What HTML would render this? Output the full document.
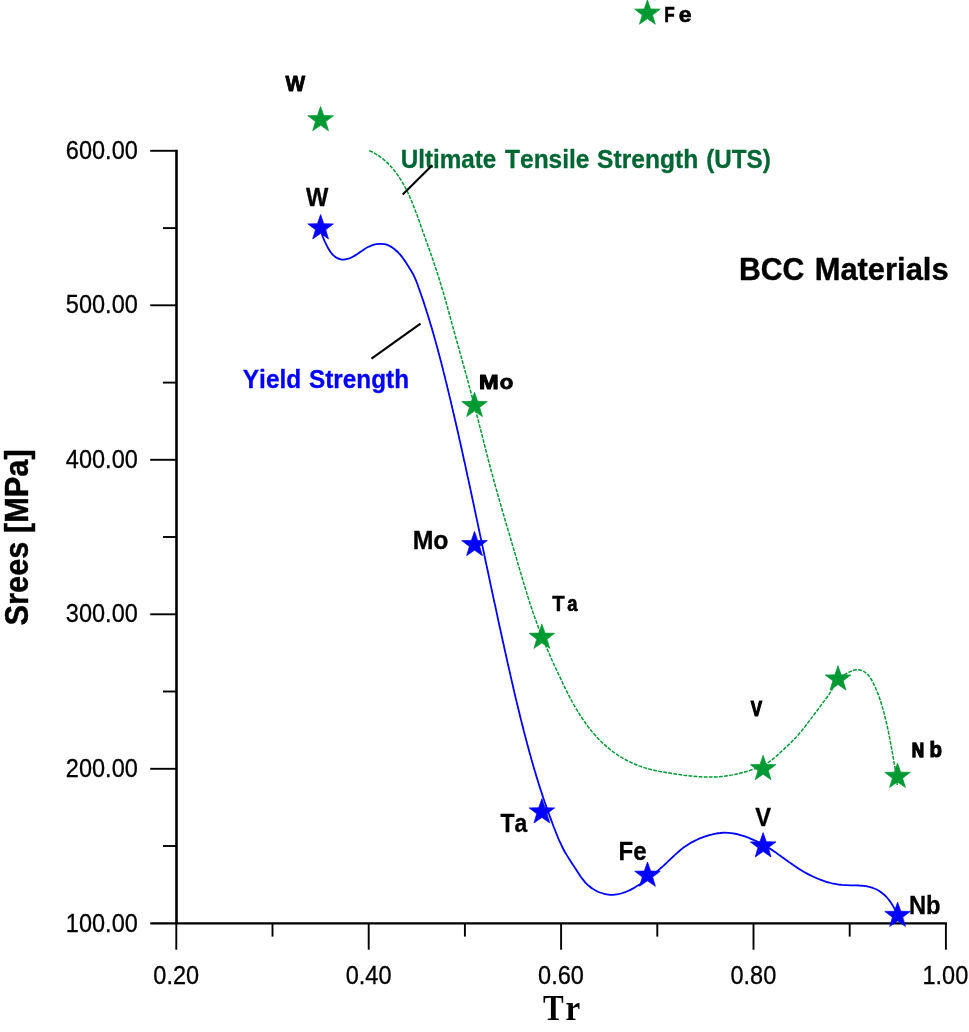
<!DOCTYPE html>
<html><head><meta charset="utf-8"><title>BCC Materials</title>
<style>html,body{margin:0;padding:0;background:#fff}body{width:969px;height:1032px;overflow:hidden}svg{display:block;will-change:transform}text{font-family:"Liberation Sans",sans-serif;fill:#000;font-kerning:none;font-variant-ligatures:none}.tk{font-size:23.4px}.b{font-weight:bold}.gl{font-weight:bold;font-size:20px;letter-spacing:1.6px}.bl{font-weight:bold;font-size:24px}</style></head><body>
<svg width="969" height="1032" viewBox="0 0 969 1032">
<rect width="969" height="1032" fill="#fff"/>
<g stroke="#000" fill="none" stroke-linecap="butt">
<line x1="176.5" y1="149.8" x2="176.5" y2="923.3" stroke-width="2.6"/>
<line x1="150.2" y1="923.3" x2="946.9" y2="923.3" stroke-width="2.2"/>
<g stroke-width="1.9">
<line x1="150.2" y1="150.8" x2="176.3" y2="150.8"/>
<line x1="163.0" y1="228.1" x2="176.3" y2="228.1"/>
<line x1="150.2" y1="305.3" x2="176.3" y2="305.3"/>
<line x1="163.0" y1="382.6" x2="176.3" y2="382.6"/>
<line x1="150.2" y1="459.8" x2="176.3" y2="459.8"/>
<line x1="163.0" y1="537.0" x2="176.3" y2="537.0"/>
<line x1="150.2" y1="614.3" x2="176.3" y2="614.3"/>
<line x1="163.0" y1="691.5" x2="176.3" y2="691.5"/>
<line x1="150.2" y1="768.8" x2="176.3" y2="768.8"/>
<line x1="163.0" y1="846.0" x2="176.3" y2="846.0"/>
<line x1="176.3" y1="923.3" x2="176.3" y2="949.7"/>
<line x1="272.5" y1="923.3" x2="272.5" y2="936.6"/>
<line x1="368.7" y1="923.3" x2="368.7" y2="949.7"/>
<line x1="464.9" y1="923.3" x2="464.9" y2="936.6"/>
<line x1="561.1" y1="923.3" x2="561.1" y2="949.7"/>
<line x1="657.3" y1="923.3" x2="657.3" y2="936.6"/>
<line x1="753.5" y1="923.3" x2="753.5" y2="949.7"/>
<line x1="849.7" y1="923.3" x2="849.7" y2="936.6"/>
<line x1="945.9" y1="923.3" x2="945.9" y2="949.7"/>
</g></g>
<text transform="translate(65.86,158.81) scale(0.941,1)" font-size="25.00" stroke="#000" stroke-width="0.30">600.00</text>
<text transform="translate(65.86,313.31) scale(0.941,1)" font-size="25.00" stroke="#000" stroke-width="0.30">500.00</text>
<text transform="translate(65.86,467.81) scale(0.941,1)" font-size="25.00" stroke="#000" stroke-width="0.30">400.00</text>
<text transform="translate(65.86,622.31) scale(0.941,1)" font-size="25.00" stroke="#000" stroke-width="0.30">300.00</text>
<text transform="translate(65.86,776.81) scale(0.941,1)" font-size="25.00" stroke="#000" stroke-width="0.30">200.00</text>
<text transform="translate(65.86,932.16) scale(0.941,1)" font-size="25.00" stroke="#000" stroke-width="0.30">100.00</text>
<text transform="translate(153.31,983.66) scale(0.941,1)" font-size="25.00" stroke="#000" stroke-width="0.30">0.20</text>
<text transform="translate(345.71,983.66) scale(0.941,1)" font-size="25.00" stroke="#000" stroke-width="0.30">0.40</text>
<text transform="translate(538.11,983.66) scale(0.941,1)" font-size="25.00" stroke="#000" stroke-width="0.30">0.60</text>
<text transform="translate(730.51,983.66) scale(0.941,1)" font-size="25.00" stroke="#000" stroke-width="0.30">0.80</text>
<text transform="translate(922.47,983.66) scale(0.941,1)" font-size="25.00" stroke="#000" stroke-width="0.30">1.00</text>
<text class="b" font-size="30.8" stroke="#000" stroke-width="0.4" transform="translate(27.5,625.4) rotate(-90) scale(0.999,1.085)">Srees [MPa]</text>
<text transform="translate(542.9,1019.9) scale(0.9,1.05)" style="font-family:'Liberation Serif',serif;font-weight:bold;font-size:34.5px">T</text>
<text transform="translate(565.5,1019.9) scale(0.96,1.03)" style="font-family:'Liberation Serif',serif;font-weight:bold;font-size:34.5px">r</text>
<path d="M369.3,150.7 C369.9,151.0 371.9,151.8 373.1,152.4 C374.3,153.1 375.5,153.7 376.7,154.5 C377.9,155.2 379.0,156.0 380.2,156.8 C381.3,157.6 382.4,158.5 383.5,159.4 C384.6,160.3 385.6,161.2 386.6,162.1 C387.7,163.1 388.7,164.1 389.6,165.1 C390.6,166.2 391.5,167.2 392.5,168.3 C393.4,169.3 394.3,170.4 395.1,171.5 C396.0,172.7 396.8,173.8 397.6,174.9 C398.4,176.1 399.2,177.2 399.9,178.4 C400.7,179.5 401.4,180.7 402.1,181.9 C402.8,183.1 403.5,184.3 404.2,185.5 C404.9,186.7 405.5,188.0 406.1,189.2 C406.8,190.4 407.4,191.7 408.0,192.9 C408.6,194.2 409.1,195.4 409.7,196.7 C410.3,198.0 410.8,199.3 411.3,200.5 C411.9,201.8 412.4,203.1 412.9,204.4 C413.4,205.7 413.9,207.0 414.4,208.3 C414.9,209.6 415.4,210.9 415.9,212.2 C416.4,213.5 416.9,214.8 417.4,216.1 C417.8,217.4 418.3,218.8 418.8,220.1 C419.3,221.4 419.7,222.7 420.2,224.0 C420.7,225.3 421.1,226.6 421.6,227.9 C422.1,229.3 422.6,230.6 423.0,231.9 C423.5,233.2 424.0,234.5 424.4,235.8 C424.9,237.1 425.4,238.4 425.8,239.8 C426.3,241.1 426.8,242.4 427.3,243.7 C427.7,245.0 428.2,246.3 428.6,247.6 C429.1,248.9 429.6,250.2 430.0,251.6 C430.5,252.9 430.9,254.2 431.4,255.5 C431.9,256.8 432.3,258.1 432.8,259.4 C433.2,260.8 433.7,262.1 434.1,263.4 C434.6,264.7 435.0,266.0 435.4,267.3 C435.9,268.7 436.3,270.0 436.7,271.3 C437.2,272.6 437.6,273.9 438.0,275.3 C438.4,276.6 438.9,277.9 439.3,279.2 C439.7,280.6 440.1,281.9 440.5,283.2 C440.9,284.6 441.3,285.9 441.7,287.2 C442.1,288.6 442.5,289.9 442.9,291.2 C443.3,292.6 443.7,293.9 444.1,295.2 C444.5,296.6 444.8,297.9 445.2,299.2 C445.6,300.6 446.0,301.9 446.4,303.3 C446.7,304.6 447.1,305.9 447.5,307.3 C447.8,308.6 448.2,310.0 448.6,311.3 C449.0,312.7 449.3,314.0 449.7,315.3 C450.1,316.7 450.4,318.0 450.8,319.4 C451.2,320.7 451.5,322.1 451.9,323.4 C452.3,324.7 452.6,326.1 453.0,327.4 C453.4,328.8 453.7,330.1 454.1,331.4 C454.5,332.8 454.9,334.1 455.2,335.5 C455.6,336.8 456.0,338.1 456.3,339.5 C456.7,340.8 457.1,342.2 457.5,343.5 C457.8,344.9 458.2,346.2 458.6,347.5 C459.0,348.9 459.3,350.2 459.7,351.6 C460.1,352.9 460.4,354.2 460.8,355.6 C461.2,356.9 461.6,358.3 461.9,359.6 C462.3,360.9 462.7,362.3 463.0,363.6 C463.4,365.0 463.8,366.3 464.2,367.6 C464.5,369.0 464.9,370.3 465.3,371.7 C465.6,373.0 466.0,374.3 466.4,375.7 C466.7,377.0 467.1,378.4 467.5,379.7 C467.8,381.1 468.2,382.4 468.6,383.7 C468.9,385.1 469.3,386.4 469.6,387.8 C470.0,389.1 470.4,390.5 470.7,391.8 C471.1,393.1 471.5,394.5 471.8,395.8 C472.2,397.2 472.5,398.5 472.9,399.9 C473.2,401.2 473.6,402.6 473.9,403.9 C474.3,405.3 474.7,406.6 475.0,407.9 C475.4,409.3 475.7,410.6 476.1,412.0 C476.4,413.3 476.8,414.7 477.1,416.0 C477.5,417.4 477.8,418.7 478.1,420.1 C478.5,421.4 478.8,422.8 479.2,424.1 C479.5,425.5 479.9,426.8 480.2,428.2 C480.6,429.5 480.9,430.9 481.3,432.2 C481.6,433.6 481.9,434.9 482.3,436.3 C482.6,437.6 483.0,438.9 483.3,440.3 C483.7,441.6 484.0,443.0 484.3,444.3 C484.7,445.7 485.0,447.0 485.4,448.4 C485.7,449.7 486.1,451.1 486.4,452.4 C486.8,453.8 487.1,455.1 487.5,456.5 C487.8,457.8 488.2,459.2 488.5,460.5 C488.9,461.9 489.2,463.2 489.6,464.5 C489.9,465.9 490.3,467.2 490.6,468.6 C491.0,469.9 491.4,471.3 491.7,472.6 C492.1,474.0 492.4,475.3 492.8,476.6 C493.2,478.0 493.5,479.3 493.9,480.7 C494.3,482.0 494.6,483.4 495.0,484.7 C495.4,486.0 495.7,487.4 496.1,488.7 C496.5,490.1 496.9,491.4 497.2,492.7 C497.6,494.1 498.0,495.4 498.4,496.8 C498.8,498.1 499.1,499.4 499.5,500.8 C499.9,502.1 500.3,503.4 500.7,504.8 C501.1,506.1 501.4,507.5 501.8,508.8 C502.2,510.1 502.6,511.5 503.0,512.8 C503.4,514.1 503.8,515.5 504.2,516.8 C504.6,518.1 504.9,519.5 505.3,520.8 C505.7,522.1 506.1,523.5 506.5,524.8 C506.9,526.1 507.3,527.5 507.7,528.8 C508.1,530.2 508.5,531.5 508.9,532.8 C509.3,534.2 509.7,535.5 510.1,536.8 C510.5,538.2 510.9,539.5 511.2,540.8 C511.6,542.2 512.0,543.5 512.4,544.8 C512.8,546.2 513.2,547.5 513.6,548.8 C514.0,550.2 514.4,551.5 514.8,552.8 C515.2,554.2 515.6,555.5 516.0,556.8 C516.4,558.2 516.8,559.5 517.1,560.9 C517.5,562.2 517.9,563.5 518.3,564.9 C518.7,566.2 519.1,567.5 519.5,568.9 C519.9,570.2 520.3,571.5 520.7,572.9 C521.1,574.2 521.5,575.6 521.9,576.9 C522.2,578.2 522.6,579.6 523.0,580.9 C523.4,582.2 523.8,583.6 524.2,584.9 C524.6,586.2 525.0,587.6 525.5,588.9 C525.9,590.2 526.3,591.5 526.7,592.9 C527.1,594.2 527.5,595.5 527.9,596.9 C528.3,598.2 528.8,599.5 529.2,600.8 C529.6,602.2 530.0,603.5 530.5,604.8 C530.9,606.1 531.3,607.4 531.8,608.8 C532.2,610.1 532.7,611.4 533.1,612.7 C533.6,614.0 534.0,615.3 534.5,616.7 C535.0,618.0 535.4,619.3 535.9,620.6 C536.4,621.9 536.8,623.2 537.3,624.5 C537.8,625.8 538.3,627.1 538.8,628.4 C539.3,629.7 539.8,631.0 540.3,632.3 C540.8,633.6 541.3,634.9 541.8,636.2 C542.3,637.5 542.9,638.8 543.4,640.0 C543.9,641.3 544.5,642.6 545.0,643.9 C545.5,645.2 546.1,646.5 546.6,647.8 C547.2,649.0 547.7,650.3 548.3,651.6 C548.8,652.9 549.4,654.1 549.9,655.4 C550.5,656.7 551.1,658.0 551.6,659.2 C552.2,660.5 552.8,661.8 553.3,663.0 C553.9,664.3 554.5,665.6 555.1,666.9 C555.7,668.1 556.2,669.4 556.8,670.6 C557.4,671.9 558.0,673.2 558.6,674.4 C559.2,675.7 559.8,677.0 560.4,678.2 C561.0,679.5 561.6,680.7 562.2,682.0 C562.8,683.2 563.4,684.5 564.0,685.8 C564.6,687.0 565.2,688.3 565.8,689.5 C566.4,690.7 567.1,692.0 567.7,693.2 C568.3,694.5 569.0,695.7 569.6,696.9 C570.2,698.2 570.9,699.4 571.6,700.6 C572.2,701.8 572.9,703.0 573.6,704.3 C574.3,705.5 575.0,706.7 575.7,707.9 C576.4,709.1 577.1,710.3 577.8,711.4 C578.5,712.6 579.2,713.8 580.0,715.0 C580.7,716.2 581.5,717.3 582.3,718.5 C583.1,719.6 583.8,720.8 584.6,721.9 C585.4,723.1 586.3,724.2 587.1,725.3 C587.9,726.5 588.8,727.6 589.6,728.7 C590.5,729.8 591.3,730.8 592.2,731.9 C593.1,733.0 594.0,734.0 595.0,735.1 C595.9,736.1 596.8,737.2 597.8,738.2 C598.7,739.2 599.7,740.2 600.7,741.2 C601.7,742.1 602.7,743.1 603.7,744.0 C604.8,745.0 605.8,745.9 606.9,746.8 C607.9,747.7 609.0,748.6 610.1,749.5 C611.2,750.3 612.3,751.2 613.4,752.0 C614.5,752.8 615.7,753.6 616.8,754.4 C618.0,755.2 619.2,755.9 620.3,756.7 C621.5,757.4 622.7,758.1 623.9,758.8 C625.1,759.5 626.4,760.2 627.6,760.8 C628.8,761.4 630.1,762.1 631.3,762.6 C632.6,763.2 633.8,763.8 635.1,764.3 C636.4,764.9 637.7,765.4 639.0,765.9 C640.3,766.3 641.6,766.8 642.9,767.2 C644.2,767.7 645.6,768.1 646.9,768.4 C648.2,768.8 649.6,769.2 650.9,769.5 C652.3,769.8 653.6,770.1 655.0,770.4 C656.4,770.7 657.7,771.0 659.1,771.3 C660.5,771.5 661.8,771.8 663.2,772.0 C664.6,772.3 666.0,772.5 667.4,772.7 C668.7,772.9 670.1,773.1 671.5,773.4 C672.9,773.6 674.3,773.8 675.6,774.0 C677.0,774.2 678.4,774.4 679.8,774.6 C681.2,774.8 682.6,775.0 683.9,775.2 C685.3,775.3 686.7,775.5 688.1,775.7 C689.5,775.8 690.8,776.0 692.2,776.1 C693.6,776.3 695.0,776.4 696.4,776.5 C697.8,776.6 699.1,776.7 700.5,776.8 C701.9,776.9 703.3,777.0 704.7,777.0 C706.1,777.1 707.4,777.1 708.8,777.1 C710.2,777.1 711.6,777.1 713.0,777.1 C714.4,777.0 715.7,777.0 717.1,776.9 C718.5,776.8 719.9,776.7 721.3,776.6 C722.7,776.5 724.1,776.3 725.5,776.1 C726.8,775.9 728.2,775.7 729.6,775.5 C731.0,775.3 732.4,775.0 733.7,774.7 C735.1,774.5 736.5,774.2 737.8,773.8 C739.2,773.5 740.6,773.2 741.9,772.8 C743.3,772.5 744.6,772.1 745.9,771.7 C747.3,771.3 748.6,770.9 749.9,770.4 C751.2,770.0 752.5,769.6 753.8,769.1 C755.1,768.7 756.5,768.2 757.8,767.7 C759.1,767.3 760.4,766.8 761.6,766.2 C762.9,765.6 764.2,765.0 765.4,764.3 C766.6,763.7 767.7,762.9 768.9,762.1 C770.0,761.3 771.1,760.5 772.2,759.6 C773.3,758.7 774.3,757.8 775.4,756.9 C776.5,756.0 777.5,755.0 778.5,754.1 C779.6,753.2 780.6,752.2 781.6,751.3 C782.7,750.3 783.7,749.4 784.7,748.4 C785.7,747.5 786.8,746.5 787.8,745.6 C788.8,744.6 789.8,743.7 790.8,742.7 C791.8,741.7 792.7,740.7 793.7,739.7 C794.7,738.7 795.6,737.7 796.6,736.7 C797.5,735.7 798.4,734.6 799.3,733.6 C800.2,732.5 801.1,731.5 802.0,730.4 C802.9,729.3 803.7,728.2 804.6,727.1 C805.4,726.0 806.3,724.9 807.1,723.8 C808.0,722.7 808.8,721.6 809.7,720.5 C810.5,719.3 811.3,718.2 812.2,717.1 C813.0,716.0 813.8,714.9 814.7,713.8 C815.5,712.6 816.3,711.5 817.2,710.4 C818.0,709.3 818.8,708.2 819.7,707.1 C820.5,706.0 821.3,704.8 822.2,703.7 C823.0,702.6 823.8,701.5 824.7,700.4 C825.5,699.3 826.3,698.2 827.2,697.0 C828.0,695.9 828.8,694.8 829.6,693.6 C830.3,692.5 831.1,691.3 831.7,690.0 C832.4,688.8 833.0,687.5 833.7,686.3 C834.4,685.0 835.0,683.8 835.7,682.6 C836.5,681.5 837.2,680.4 838.2,679.4 C839.1,678.4 840.2,677.5 841.3,676.7 C842.4,675.9 843.6,675.2 844.8,674.5 C846.1,673.8 847.3,673.1 848.6,672.5 C849.9,671.8 851.1,671.1 852.5,670.6 C853.8,670.2 855.2,669.9 856.5,669.8 C857.9,669.7 859.4,669.9 860.7,670.2 C862.0,670.5 863.3,671.1 864.4,671.8 C865.6,672.5 866.6,673.4 867.6,674.3 C868.5,675.3 869.3,676.5 870.1,677.6 C870.9,678.8 871.7,680.1 872.4,681.3 C873.0,682.6 873.7,683.9 874.3,685.2 C874.9,686.4 875.5,687.7 876.0,689.0 C876.6,690.3 877.1,691.6 877.6,692.9 C878.1,694.1 878.6,695.4 879.1,696.7 C879.5,698.1 880.0,699.4 880.4,700.7 C880.8,702.0 881.2,703.3 881.6,704.6 C882.0,705.9 882.4,707.3 882.8,708.6 C883.2,709.9 883.5,711.3 883.9,712.6 C884.3,714.0 884.6,715.3 884.9,716.6 C885.3,718.0 885.6,719.3 885.9,720.7 C886.3,722.0 886.6,723.4 886.9,724.8 C887.2,726.1 887.5,727.5 887.8,728.8 C888.1,730.2 888.4,731.6 888.6,732.9 C888.9,734.3 889.2,735.7 889.5,737.0 C889.7,738.4 890.0,739.8 890.3,741.2 C890.5,742.5 890.8,743.9 891.0,745.3 C891.3,746.6 891.5,748.0 891.8,749.4 C892.0,750.8 892.3,752.1 892.5,753.5 C892.7,754.9 893.0,756.3 893.2,757.6 C893.5,759.0 893.7,760.4 893.9,761.7 C894.2,763.1 894.4,764.5 894.7,765.8 C894.9,767.2 895.1,768.6 895.3,769.9 C895.6,771.3 895.8,772.7 896.0,774.0 C896.2,775.4 896.4,776.8 896.5,778.2 C896.7,779.5 896.9,780.9 897.0,782.3 C897.2,783.7 897.3,785.8 897.4,786.5" fill="none" stroke="#009933" stroke-width="1.5" stroke-dasharray="3.8 1.3"/>
<path d="M320.6,228.1 C320.7,228.8 321.0,231.0 321.4,232.4 C321.7,233.8 322.2,235.1 322.7,236.5 C323.2,237.8 323.8,239.1 324.3,240.4 C324.9,241.7 325.5,243.1 326.2,244.4 C326.8,245.7 327.4,247.0 328.2,248.3 C328.9,249.6 329.7,250.8 330.5,252.0 C331.4,253.2 332.4,254.4 333.4,255.3 C334.5,256.3 335.6,257.3 336.9,257.9 C338.1,258.6 339.5,259.1 340.8,259.3 C342.2,259.6 343.7,259.6 345.1,259.4 C346.5,259.2 347.9,258.9 349.3,258.4 C350.6,257.9 351.9,257.2 353.2,256.5 C354.5,255.8 355.7,255.0 357.0,254.2 C358.2,253.4 359.4,252.5 360.6,251.7 C361.9,250.8 363.1,250.0 364.3,249.2 C365.5,248.4 366.7,247.7 368.0,247.0 C369.3,246.4 370.6,245.8 371.9,245.3 C373.3,244.8 374.7,244.4 376.1,244.2 C377.5,243.9 379.0,243.8 380.5,243.8 C381.9,243.8 383.4,243.9 384.8,244.2 C386.2,244.5 387.5,245.0 388.9,245.6 C390.2,246.1 391.4,246.9 392.6,247.7 C393.8,248.5 395.0,249.5 396.1,250.5 C397.2,251.4 398.2,252.5 399.2,253.6 C400.2,254.6 401.1,255.7 402.0,256.9 C402.9,258.0 403.7,259.2 404.5,260.4 C405.4,261.6 406.1,262.8 406.9,264.0 C407.7,265.2 408.5,266.4 409.2,267.7 C410.0,268.9 410.7,270.2 411.5,271.4 C412.2,272.7 412.9,273.9 413.6,275.2 C414.2,276.5 414.8,277.8 415.4,279.2 C416.0,280.5 416.5,281.8 417.0,283.2 C417.6,284.5 418.0,285.9 418.5,287.3 C419.0,288.6 419.5,290.0 420.0,291.4 C420.5,292.7 420.9,294.1 421.4,295.5 C421.9,296.8 422.3,298.2 422.8,299.6 C423.3,301.0 423.7,302.3 424.2,303.7 C424.6,305.1 425.1,306.5 425.5,307.8 C425.9,309.2 426.4,310.6 426.8,312.0 C427.3,313.4 427.7,314.7 428.1,316.1 C428.5,317.5 429.0,318.9 429.4,320.3 C429.8,321.7 430.2,323.0 430.6,324.4 C431.1,325.8 431.5,327.2 431.9,328.6 C432.3,330.0 432.7,331.4 433.1,332.8 C433.5,334.2 433.9,335.6 434.3,336.9 C434.7,338.3 435.1,339.7 435.5,341.1 C435.8,342.5 436.2,343.9 436.6,345.3 C437.0,346.7 437.4,348.1 437.8,349.5 C438.1,350.9 438.5,352.3 438.9,353.7 C439.3,355.1 439.6,356.5 440.0,357.9 C440.4,359.3 440.7,360.7 441.1,362.1 C441.5,363.5 441.8,364.9 442.2,366.3 C442.5,367.7 442.9,369.1 443.2,370.5 C443.6,371.9 443.9,373.3 444.3,374.7 C444.7,376.1 445.0,377.6 445.3,379.0 C445.7,380.4 446.0,381.8 446.4,383.2 C446.7,384.6 447.1,386.0 447.4,387.4 C447.8,388.8 448.1,390.2 448.4,391.6 C448.8,393.0 449.1,394.4 449.4,395.9 C449.8,397.3 450.1,398.7 450.5,400.1 C450.8,401.5 451.1,402.9 451.4,404.3 C451.8,405.7 452.1,407.1 452.4,408.5 C452.8,410.0 453.1,411.4 453.4,412.8 C453.8,414.2 454.1,415.6 454.4,417.0 C454.7,418.4 455.1,419.8 455.4,421.2 C455.7,422.7 456.0,424.1 456.4,425.5 C456.7,426.9 457.0,428.3 457.3,429.7 C457.6,431.1 458.0,432.5 458.3,434.0 C458.6,435.4 458.9,436.8 459.2,438.2 C459.6,439.6 459.9,441.0 460.2,442.4 C460.5,443.8 460.8,445.3 461.1,446.7 C461.4,448.1 461.8,449.5 462.1,450.9 C462.4,452.3 462.7,453.7 463.0,455.2 C463.3,456.6 463.6,458.0 463.9,459.4 C464.3,460.8 464.6,462.2 464.9,463.6 C465.2,465.1 465.5,466.5 465.8,467.9 C466.1,469.3 466.4,470.7 466.7,472.1 C467.0,473.5 467.3,475.0 467.6,476.4 C468.0,477.8 468.3,479.2 468.6,480.6 C468.9,482.0 469.2,483.5 469.5,484.9 C469.8,486.3 470.1,487.7 470.4,489.1 C470.7,490.5 471.0,491.9 471.3,493.4 C471.6,494.8 471.9,496.2 472.2,497.6 C472.5,499.0 472.8,500.4 473.1,501.9 C473.4,503.3 473.7,504.7 474.0,506.1 C474.3,507.5 474.6,508.9 474.9,510.4 C475.2,511.8 475.5,513.2 475.8,514.6 C476.1,516.0 476.4,517.4 476.7,518.9 C477.0,520.3 477.3,521.7 477.6,523.1 C477.9,524.5 478.2,525.9 478.5,527.4 C478.8,528.8 479.1,530.2 479.4,531.6 C479.7,533.0 480.0,534.4 480.3,535.9 C480.6,537.3 480.9,538.7 481.2,540.1 C481.5,541.5 481.8,542.9 482.1,544.4 C482.4,545.8 482.7,547.2 483.0,548.6 C483.3,550.0 483.6,551.4 483.9,552.9 C484.2,554.3 484.5,555.7 484.8,557.1 C485.1,558.5 485.4,560.0 485.7,561.4 C486.0,562.8 486.3,564.2 486.6,565.6 C486.9,567.0 487.2,568.5 487.5,569.9 C487.8,571.3 488.1,572.7 488.4,574.1 C488.7,575.5 489.0,577.0 489.3,578.4 C489.6,579.8 489.9,581.2 490.2,582.6 C490.5,584.0 490.8,585.5 491.1,586.9 C491.4,588.3 491.7,589.7 492.0,591.1 C492.3,592.5 492.6,594.0 492.9,595.4 C493.2,596.8 493.5,598.2 493.8,599.6 C494.1,601.0 494.4,602.5 494.8,603.9 C495.1,605.3 495.4,606.7 495.7,608.1 C496.0,609.5 496.3,610.9 496.6,612.4 C496.9,613.8 497.2,615.2 497.5,616.6 C497.8,618.0 498.1,619.4 498.4,620.9 C498.7,622.3 499.0,623.7 499.3,625.1 C499.6,626.5 500.0,627.9 500.3,629.4 C500.6,630.8 500.9,632.2 501.2,633.6 C501.5,635.0 501.8,636.4 502.1,637.8 C502.4,639.3 502.7,640.7 503.0,642.1 C503.4,643.5 503.7,644.9 504.0,646.3 C504.3,647.7 504.6,649.2 504.9,650.6 C505.2,652.0 505.5,653.4 505.9,654.8 C506.2,656.2 506.5,657.6 506.8,659.1 C507.1,660.5 507.4,661.9 507.7,663.3 C508.1,664.7 508.4,666.1 508.7,667.5 C509.0,668.9 509.3,670.4 509.7,671.8 C510.0,673.2 510.3,674.6 510.6,676.0 C510.9,677.4 511.3,678.8 511.6,680.2 C511.9,681.7 512.2,683.1 512.6,684.5 C512.9,685.9 513.2,687.3 513.5,688.7 C513.9,690.1 514.2,691.5 514.5,692.9 C514.9,694.3 515.2,695.8 515.5,697.2 C515.9,698.6 516.2,700.0 516.5,701.4 C516.9,702.8 517.2,704.2 517.5,705.6 C517.9,707.0 518.2,708.4 518.6,709.8 C518.9,711.2 519.2,712.7 519.6,714.1 C519.9,715.5 520.3,716.9 520.6,718.3 C521.0,719.7 521.3,721.1 521.7,722.5 C522.0,723.9 522.4,725.3 522.8,726.7 C523.1,728.1 523.5,729.5 523.8,730.9 C524.2,732.3 524.5,733.7 524.9,735.1 C525.3,736.5 525.6,737.9 526.0,739.3 C526.4,740.7 526.8,742.1 527.1,743.5 C527.5,744.9 527.9,746.3 528.3,747.7 C528.6,749.1 529.0,750.5 529.4,751.9 C529.8,753.3 530.2,754.7 530.6,756.1 C530.9,757.5 531.3,758.9 531.7,760.3 C532.1,761.7 532.5,763.1 532.9,764.5 C533.3,765.9 533.7,767.3 534.1,768.6 C534.5,770.0 535.0,771.4 535.4,772.8 C535.8,774.2 536.2,775.6 536.6,777.0 C537.0,778.4 537.5,779.7 537.9,781.1 C538.3,782.5 538.8,783.9 539.2,785.3 C539.6,786.7 540.1,788.0 540.5,789.4 C541.0,790.8 541.4,792.2 541.9,793.5 C542.3,794.9 542.8,796.3 543.2,797.7 C543.7,799.0 544.2,800.4 544.6,801.8 C545.1,803.1 545.6,804.5 546.1,805.9 C546.5,807.2 547.0,808.6 547.5,810.0 C548.0,811.3 548.5,812.7 549.0,814.0 C549.5,815.4 550.0,816.8 550.5,818.1 C551.0,819.5 551.5,820.8 552.0,822.2 C552.5,823.6 553.0,824.9 553.5,826.3 C554.1,827.6 554.6,829.0 555.1,830.3 C555.6,831.7 556.1,833.1 556.7,834.4 C557.2,835.8 557.8,837.1 558.3,838.4 C558.9,839.8 559.5,841.1 560.1,842.4 C560.7,843.7 561.3,845.1 561.9,846.3 C562.6,847.6 563.2,848.9 563.9,850.2 C564.6,851.5 565.3,852.7 566.1,853.9 C566.8,855.2 567.5,856.4 568.3,857.6 C569.1,858.9 569.9,860.1 570.6,861.3 C571.4,862.5 572.2,863.7 573.0,864.9 C573.8,866.2 574.6,867.4 575.4,868.6 C576.2,869.8 577.0,871.1 577.8,872.3 C578.6,873.5 579.4,874.7 580.2,875.9 C581.0,877.1 581.9,878.3 582.8,879.4 C583.7,880.6 584.6,881.7 585.6,882.8 C586.6,883.8 587.6,884.8 588.7,885.8 C589.8,886.7 591.0,887.6 592.2,888.4 C593.4,889.3 594.7,890.0 596.0,890.7 C597.3,891.4 598.7,892.0 600.0,892.5 C601.4,893.0 602.8,893.5 604.2,893.8 C605.6,894.2 607.0,894.5 608.5,894.6 C609.9,894.8 611.3,894.9 612.7,894.8 C614.1,894.8 615.5,894.7 616.9,894.4 C618.3,894.2 619.7,893.9 621.1,893.5 C622.5,893.1 623.9,892.7 625.2,892.2 C626.6,891.6 627.9,891.0 629.3,890.4 C630.6,889.8 631.9,889.1 633.2,888.4 C634.5,887.7 635.8,886.9 637.0,886.1 C638.3,885.3 639.6,884.5 640.8,883.7 C642.0,882.9 643.2,882.0 644.4,881.2 C645.6,880.4 646.8,879.5 647.9,878.7 C649.1,877.8 650.2,876.9 651.4,876.0 C652.5,875.1 653.6,874.2 654.7,873.3 C655.8,872.4 656.9,871.5 658.0,870.6 C659.1,869.6 660.2,868.7 661.2,867.7 C662.3,866.8 663.4,865.8 664.4,864.8 C665.5,863.8 666.5,862.8 667.6,861.8 C668.6,860.8 669.7,859.8 670.7,858.8 C671.8,857.8 672.9,856.8 673.9,855.8 C675.0,854.8 676.1,853.8 677.2,852.9 C678.3,851.9 679.4,850.9 680.5,850.0 C681.6,849.1 682.8,848.2 683.9,847.3 C685.1,846.5 686.3,845.7 687.5,844.9 C688.7,844.1 689.9,843.4 691.2,842.6 C692.5,841.9 693.7,841.3 695.0,840.6 C696.3,840.0 697.7,839.4 699.0,838.8 C700.3,838.3 701.7,837.7 703.1,837.2 C704.4,836.7 705.8,836.2 707.2,835.8 C708.6,835.4 710.0,834.9 711.5,834.6 C712.9,834.2 714.3,833.9 715.8,833.6 C717.2,833.3 718.6,833.1 720.1,833.0 C721.5,832.8 723.0,832.7 724.4,832.7 C725.8,832.7 727.3,832.7 728.7,832.8 C730.1,832.9 731.6,833.1 733.0,833.3 C734.4,833.6 735.9,833.9 737.3,834.2 C738.7,834.6 740.1,834.9 741.5,835.4 C742.9,835.8 744.3,836.3 745.6,836.7 C747.0,837.2 748.4,837.8 749.7,838.3 C751.1,838.8 752.4,839.4 753.8,840.0 C755.1,840.6 756.4,841.2 757.7,841.8 C759.0,842.4 760.3,843.1 761.6,843.8 C762.9,844.4 764.2,845.1 765.4,845.9 C766.7,846.6 767.9,847.3 769.1,848.1 C770.4,848.8 771.6,849.6 772.8,850.4 C774.0,851.2 775.2,852.0 776.4,852.9 C777.5,853.7 778.7,854.6 779.9,855.4 C781.1,856.2 782.2,857.1 783.4,858.0 C784.5,858.8 785.7,859.7 786.9,860.5 C788.0,861.4 789.2,862.2 790.4,863.1 C791.6,863.9 792.8,864.8 794.0,865.6 C795.2,866.4 796.4,867.2 797.6,868.0 C798.8,868.8 800.0,869.6 801.3,870.3 C802.5,871.1 803.8,871.8 805.1,872.5 C806.3,873.2 807.6,873.9 808.9,874.6 C810.2,875.3 811.5,875.9 812.8,876.5 C814.1,877.1 815.4,877.7 816.8,878.3 C818.1,878.9 819.4,879.4 820.8,879.9 C822.1,880.4 823.5,880.9 824.9,881.3 C826.2,881.8 827.6,882.2 829.0,882.5 C830.4,882.9 831.8,883.3 833.2,883.6 C834.6,883.9 836.0,884.1 837.5,884.3 C838.9,884.6 840.3,884.7 841.8,884.9 C843.2,885.0 844.6,885.1 846.1,885.2 C847.6,885.3 849.0,885.3 850.5,885.3 C851.9,885.3 853.4,885.3 854.9,885.3 C856.3,885.4 857.8,885.4 859.3,885.5 C860.7,885.5 862.2,885.6 863.6,885.8 C865.1,886.0 866.5,886.2 867.9,886.5 C869.3,886.9 870.7,887.2 872.1,887.7 C873.4,888.2 874.8,888.7 876.1,889.3 C877.4,890.0 878.7,890.7 879.9,891.4 C881.1,892.2 882.2,893.1 883.3,894.0 C884.4,894.9 885.5,895.9 886.5,897.0 C887.5,898.1 888.4,899.2 889.3,900.4 C890.2,901.5 891.0,902.7 891.8,904.0 C892.6,905.2 893.3,906.5 894.0,907.8 C894.7,909.0 895.4,910.3 896.0,911.6 C896.6,912.9 897.4,914.9 897.6,915.6" fill="none" stroke="#0000ff" stroke-width="1.8"/>
<polygon points="320.60,106.45 323.77,115.53 333.39,115.74 325.74,121.57 328.51,130.78 320.60,125.30 312.69,130.78 315.46,121.57 307.81,115.74 317.43,115.53" fill="#009933" stroke="#009933" stroke-width="0.7" stroke-linejoin="round"/>
<polygon points="474.52,392.28 477.69,401.36 487.31,401.57 479.66,407.39 482.43,416.61 474.52,411.12 466.61,416.61 469.38,407.39 461.73,401.57 471.35,401.36" fill="#009933" stroke="#009933" stroke-width="0.7" stroke-linejoin="round"/>
<polygon points="541.86,624.02 545.03,633.11 554.65,633.32 547.00,639.14 549.77,648.36 541.86,642.88 533.95,648.36 536.72,639.14 529.07,633.32 538.69,633.11" fill="#009933" stroke="#009933" stroke-width="0.7" stroke-linejoin="round"/>
<polygon points="763.12,755.35 766.29,764.43 775.91,764.64 768.26,770.47 771.03,779.68 763.12,774.20 755.21,779.68 757.98,770.47 750.33,764.64 759.95,764.43" fill="#009933" stroke="#009933" stroke-width="0.7" stroke-linejoin="round"/>
<polygon points="838.00,665.74 841.17,674.82 850.79,675.03 843.14,680.86 845.91,690.07 838.00,684.59 830.09,690.07 832.86,680.86 825.21,675.03 834.83,674.82" fill="#009933" stroke="#009933" stroke-width="0.7" stroke-linejoin="round"/>
<polygon points="897.50,763.08 900.67,772.16 910.29,772.37 902.64,778.19 905.41,787.41 897.50,781.93 889.59,787.41 892.36,778.19 884.71,772.37 894.33,772.16" fill="#009933" stroke="#009933" stroke-width="0.7" stroke-linejoin="round"/>
<polygon points="647.38,-0.15 650.55,8.93 660.17,9.14 652.52,14.96 655.29,24.18 647.38,18.70 639.47,24.18 642.24,14.96 634.59,9.14 644.21,8.93" fill="#009933" stroke="#009933" stroke-width="0.7" stroke-linejoin="round"/>
<polygon points="320.60,214.60 323.77,223.68 333.39,223.89 325.74,229.72 328.51,238.93 320.60,233.45 312.69,238.93 315.46,229.72 307.81,223.89 317.43,223.68" fill="#0000ff" stroke="#0000ff" stroke-width="0.7" stroke-linejoin="round"/>
<polygon points="474.52,531.32 477.69,540.41 487.31,540.62 479.66,546.44 482.43,555.66 474.52,550.17 466.61,555.66 469.38,546.44 461.73,540.62 471.35,540.41" fill="#0000ff" stroke="#0000ff" stroke-width="0.7" stroke-linejoin="round"/>
<polygon points="541.86,798.61 545.03,807.69 554.65,807.90 547.00,813.73 549.77,822.94 541.86,817.46 533.95,822.94 536.72,813.73 529.07,807.90 538.69,807.69" fill="#0000ff" stroke="#0000ff" stroke-width="0.7" stroke-linejoin="round"/>
<polygon points="647.48,861.95 650.65,871.04 660.27,871.25 652.62,877.07 655.39,886.29 647.48,880.80 639.57,886.29 642.34,877.07 634.69,871.25 644.31,871.04" fill="#0000ff" stroke="#0000ff" stroke-width="0.7" stroke-linejoin="round"/>
<polygon points="763.12,832.60 766.29,841.68 775.91,841.89 768.26,847.72 771.03,856.93 763.12,851.45 755.21,856.93 757.98,847.72 750.33,841.89 759.95,841.68" fill="#0000ff" stroke="#0000ff" stroke-width="0.7" stroke-linejoin="round"/>
<polygon points="897.60,902.12 900.77,911.21 910.39,911.42 902.74,917.24 905.51,926.46 897.60,920.98 889.69,926.46 892.46,917.24 884.81,911.42 894.43,911.21" fill="#0000ff" stroke="#0000ff" stroke-width="0.7" stroke-linejoin="round"/>
<text class="b" transform="translate(400.74,167.75) scale(0.921,1)" font-size="26.31" stroke="#006633" stroke-width="0.30" stroke-linejoin="round" style="fill:#006633">Ultimate</text>
<text class="b" transform="translate(505.02,167.75) scale(0.932,1)" font-size="26.31" stroke="#006633" stroke-width="0.30" stroke-linejoin="round" style="fill:#006633">Tensile</text>
<text class="b" transform="translate(597.09,167.75) scale(0.935,1)" font-size="26.31" stroke="#006633" stroke-width="0.30" stroke-linejoin="round" style="fill:#006633">Strength</text>
<text class="b" transform="translate(706.19,167.75) scale(0.921,1)" font-size="26.31" stroke="#006633" stroke-width="0.30" stroke-linejoin="round" style="fill:#006633">(UTS)</text>
<text class="b" transform="translate(242.78,387.55) scale(0.940,1)" font-size="26.02" stroke="#0000ff" stroke-width="0.30" stroke-linejoin="round" style="fill:#0000ff">Yield</text>
<text class="b" transform="translate(309.00,387.55) scale(0.936,1)" font-size="26.02" stroke="#0000ff" stroke-width="0.30" stroke-linejoin="round" style="fill:#0000ff">Strength</text>
<text class="b" transform="translate(739.03,279.80) scale(0.940,1)" font-size="32.12" stroke="#000" stroke-width="0.40" stroke-linejoin="round" style="fill:#000">BCC</text>
<text class="b" transform="translate(814.68,279.80) scale(0.962,1)" font-size="32.12" stroke="#000" stroke-width="0.40" stroke-linejoin="round" style="fill:#000">Materials</text>
<text class="b" transform="translate(305.98,205.55) scale(0.920,1)" font-size="25.73" stroke="#000" stroke-width="0.30" stroke-linejoin="round" style="fill:#000">W</text>
<text class="b" transform="translate(412.63,548.65) scale(0.967,1)" font-size="25.73" stroke="#000" stroke-width="0.30" stroke-linejoin="round" style="fill:#000">Mo</text>
<text class="b" transform="translate(500.44,831.65) scale(0.890,1)" font-size="25.73" stroke="#000" stroke-width="0.30" stroke-linejoin="round" style="fill:#000">Ta</text>
<text class="b" transform="translate(618.59,859.55) scale(0.934,1)" font-size="25.73" stroke="#000" stroke-width="0.30" stroke-linejoin="round" style="fill:#000">Fe</text>
<text class="b" transform="translate(755.34,825.75) scale(0.922,1)" font-size="25.73" stroke="#000" stroke-width="0.30" stroke-linejoin="round" style="fill:#000">V</text>
<text class="b" transform="translate(908.91,913.75) scale(0.923,1)" font-size="25.73" stroke="#000" stroke-width="0.30" stroke-linejoin="round" style="fill:#000">Nb</text>
<text class="b" transform="translate(285.58,90.95) scale(0.967,1)" font-size="21.51" stroke="#000" stroke-width="0.90" stroke-linejoin="round" style="fill:#000">W</text>
<text class="b" transform="translate(479.12,389.35) scale(1.135,1)" font-size="20.78" stroke="#000" stroke-width="1.10" stroke-linejoin="round" style="fill:#000">M</text>
<text class="b" transform="translate(499.83,389.45) scale(1.051,1)" font-size="21.08" stroke="#000" stroke-width="0.90" stroke-linejoin="round" style="fill:#000">o</text>
<text class="b" transform="translate(552.37,611.25) scale(0.903,1)" font-size="22.38" stroke="#000" stroke-width="0.50" stroke-linejoin="round" style="fill:#000">T</text>
<text class="b" transform="translate(567.16,611.15) scale(0.832,1)" font-size="22.09" stroke="#000" stroke-width="0.70" stroke-linejoin="round" style="fill:#000">a</text>
<text class="b" transform="translate(750.83,716.30) scale(0.801,1)" font-size="21.22" stroke="#000" stroke-width="1.20" stroke-linejoin="round" style="fill:#000">V</text>
<text class="b" transform="translate(911.75,757.05) scale(0.827,1)" font-size="20.78" stroke="#000" stroke-width="1.50" stroke-linejoin="round" style="fill:#000">N</text>
<text class="b" transform="translate(929.55,757.25) scale(0.957,1)" font-size="21.37" stroke="#000" stroke-width="1.10" stroke-linejoin="round" style="fill:#000">b</text>
<text class="b" transform="translate(664.30,21.60) scale(0.781,1)" font-size="21.95" stroke="#000" stroke-width="0.60" stroke-linejoin="round" style="fill:#000">F</text>
<text class="b" transform="translate(678.65,21.60) scale(1.047,1)" font-size="21.95" stroke="#000" stroke-width="0.60" stroke-linejoin="round" style="fill:#000">e</text>
<line x1="402.7" y1="194.6" x2="432.2" y2="165.3" stroke="#000" stroke-width="2.1"/>
<line x1="371.5" y1="358.7" x2="420.5" y2="323.7" stroke="#000" stroke-width="2.1"/>
</svg></body></html>
